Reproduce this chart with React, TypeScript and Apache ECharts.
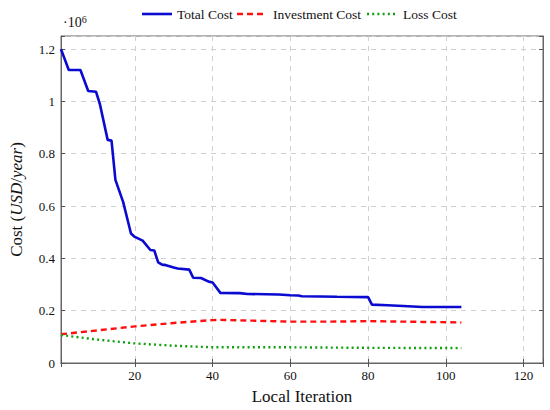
import React, { useEffect, useRef } from "react";
import * as echarts from "echarts";

// Total cost (in 10^6 USD/year) vs local iteration
const totalIter = [1, 3, 6, 8, 10, 11, 13, 14, 15, 17, 19, 20, 22, 24, 25, 26, 27, 28, 30, 31, 34, 35, 37, 39, 40, 42, 47, 49, 57, 60, 62, 63, 72, 80, 81, 85, 89, 94, 104];
const totalCost = [1.2, 1.12, 1.12, 1.04, 1.037, 0.99, 0.853, 0.85, 0.7, 0.615, 0.495, 0.482, 0.468, 0.432, 0.43, 0.385, 0.376, 0.374, 0.365, 0.361, 0.357, 0.326, 0.325, 0.311, 0.308, 0.268, 0.267, 0.264, 0.262, 0.259, 0.258, 0.255, 0.253, 0.252, 0.223, 0.221, 0.218, 0.214, 0.214];

const investIter = [1, 10, 20, 30, 40, 42, 50, 60, 70, 80, 90, 104];
const investCost = [0.11, 0.124, 0.14, 0.153, 0.164, 0.165, 0.162, 0.158, 0.158, 0.16, 0.158, 0.155];

const lossIter = [1, 10, 20, 30, 40, 60, 80, 104];
const lossCost = [0.107, 0.09, 0.075, 0.066, 0.06, 0.06, 0.058, 0.057];

const xTicks = [20, 40, 60, 80, 100, 120];
const yTicks = [0, 0.2, 0.4, 0.6, 0.8, 1, 1.2];

const seriesNames = ["Total Cost", "Investment Cost", "Loss Cost"];
const seriesColors = ["#0a0ad0", "#ff1010", "#10a010"];

const FONT = "'Liberation Serif', 'DejaVu Serif', serif";

const zip = (xs: number[], ys: number[]) => xs.map((x, i) => [x, ys[i]]);

export default function App() {
  const ref = useRef<HTMLDivElement>(null);
  useEffect(() => {
    document.body.style.margin = "0";
    const chart = echarts.init(ref.current!, null, { renderer: "svg" });
    const tickStyle = { show: true, inside: true, length: 4, lineStyle: { color: "#555", width: 1 } };
    const gridLine = { show: true, lineStyle: { color: "#d0d0d0", type: [5, 5] as any, width: 1 } };
    const dashes: any[] = [null, [6, 4], [2, 3.2]];
    const legendLines = [[142, 172], [237, 265], [367, 397]];
    const legendTextX = [177, 273, 403];
    const legendY = 14;
    const legendGraphics: any[] = [];
    seriesNames.forEach((n, i) => {
      legendGraphics.push({
        type: "line",
        shape: { x1: legendLines[i][0], y1: legendY, x2: legendLines[i][1], y2: legendY },
        style: { stroke: seriesColors[i], lineWidth: i === 0 ? 2.6 : 2.4, lineDash: dashes[i] || undefined },
      });
      legendGraphics.push({
        type: "text",
        x: legendTextX[i],
        y: legendY,
        style: { text: n, fontFamily: FONT, fontSize: 13.5, fill: "#111", verticalAlign: "middle", align: "left" },
      });
    });
    chart.setOption({
      animation: false,
      backgroundColor: "#fff",
      textStyle: { fontFamily: FONT },
      grid: { left: 57, right: 7, top: 36, bottom: 47, show: true, borderColor: "#666", borderWidth: 1 },
      xAxis: [
        {
          type: "value",
          min: 1,
          max: 125,
          splitNumber: 6,
          name: "Local Iteration",
          nameLocation: "middle",
          nameGap: 25,
          nameTextStyle: { fontFamily: FONT, fontSize: 17, color: "#111" },
          axisLine: { show: true, lineStyle: { color: "#666" } },
          axisTick: tickStyle,
          splitLine: gridLine,
          axisLabel: {
            fontFamily: FONT,
            fontSize: 13,
            color: "#111",
            margin: 6,
            formatter: (v: number) => (xTicks.includes(v) ? String(v) : ""),
          },
        },
        {
          type: "value",
          position: "top",
          min: 1,
          max: 125,
          splitNumber: 6,
          axisLine: { show: true, lineStyle: { color: "#666" } },
          axisTick: tickStyle,
          axisLabel: { show: false },
          splitLine: { show: false },
        },
      ],
      yAxis: [
        {
          type: "value",
          min: 0,
          max: 1.25,
          interval: 0.2,
          name: "Cost ({i|USD}/{i|year})",
          nameLocation: "middle",
          nameGap: 36,
          nameTextStyle: {
            fontFamily: FONT,
            fontSize: 17,
            color: "#111",
            rich: { i: { fontFamily: FONT, fontSize: 17, fontStyle: "italic", color: "#111" } },
          },
          axisLine: { show: true, lineStyle: { color: "#666" } },
          axisTick: tickStyle,
          splitLine: gridLine,
          axisLabel: {
            fontFamily: FONT,
            fontSize: 13,
            color: "#111",
            margin: 6,
            formatter: (v: number) => {
              const r = Math.round(v * 10) / 10;
              return yTicks.some((t) => Math.abs(t - v) < 1e-9) ? String(r) : "";
            },
          },
        },
        {
          type: "value",
          position: "right",
          min: 0,
          max: 1.25,
          interval: 0.2,
          axisLine: { show: true, lineStyle: { color: "#666" } },
          axisTick: tickStyle,
          axisLabel: { show: false },
          splitLine: { show: false },
        },
      ],
      graphic: [
        ...legendGraphics,
        {
          type: "text",
          left: 63,
          top: 14,
          style: {
            text: "·10{s|6}",
            fontFamily: FONT,
            fontSize: 14,
            fill: "#111",
            rich: { s: { fontSize: 10, verticalAlign: "top", padding: [0, 0, 6, 0], fill: "#111", fontFamily: FONT } },
          } as any,
        },
      ],
      series: [
        {
          name: seriesNames[0],
          type: "line",
          data: zip(totalIter, totalCost),
          showSymbol: false,
          symbol: "none",
          lineStyle: { color: seriesColors[0], width: 2.6 },
          z: 3,
        },
        {
          name: seriesNames[1],
          type: "line",
          data: zip(investIter, investCost),
          showSymbol: false,
          symbol: "none",
          lineStyle: { color: seriesColors[1], width: 2.4, type: dashes[1] },
          z: 2,
        },
        {
          name: seriesNames[2],
          type: "line",
          data: zip(lossIter, lossCost),
          showSymbol: false,
          symbol: "none",
          lineStyle: { color: seriesColors[2], width: 2.4, type: dashes[2] },
          z: 2,
        },
      ],
    });
    return () => chart.dispose();
  }, []);
  return <div ref={ref} style={{ width: 550, height: 410 }} />;
}
